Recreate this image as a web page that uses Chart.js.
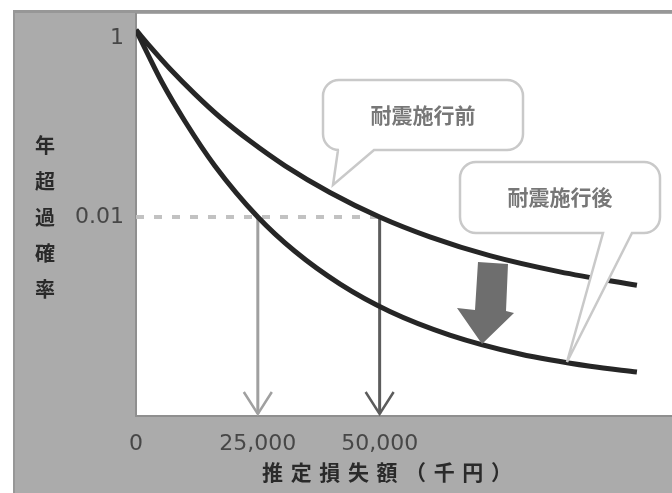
<!DOCTYPE html>
<html lang="ja">
  <head>
    <meta charset="UTF-8" />
    <title>年超過確率と推定損失額</title>
    <style>
      body { margin: 0; background: #fff; }
      #wrap { position: absolute; left: 0; top: 0; width: 672px; height: 493px; }
    </style>
  </head>
  <body>
    <div id="wrap">
      <canvas id="lossChart" width="672" height="493"></canvas>
    </div>

    <script src="https://cdn.jsdelivr.net/npm/chart.js@4.4.1/dist/chart.umd.min.js"></script>

    <script>
        // 軸の目盛
        const xTickValues = [0, 25000, 50000];
        const xTickLabels = ['0', '25,000', '50,000'];
        const yTickValues = [0.01, 1];
        const yTickLabels = ['0.01', '1'];

        // 耐震施行前 / 後 の曲線 (推定損失額, 年超過確率)
        const lossBefore = [0, 2900, 7000, 12100, 17200, 23400, 30600, 39800, 50000, 60300, 72600, 87000, 102800];
        const probBefore = [1.23, 0.80, 0.45, 0.236, 0.131, 0.0705, 0.0373, 0.0188, 0.01, 0.0060, 0.0037, 0.00244, 0.00173];
        const lossAfter = [0, 2500, 5300, 10100, 16200, 25000, 32600, 41900, 52100, 64400, 78800, 93200, 102800];
        const probAfter = [1.23, 0.646, 0.322, 0.116, 0.0372, 0.01, 0.00414, 0.00178, 0.00088, 0.00048, 0.000295, 0.000215, 0.000185];

        const threshold = 0.01;
        const markers = [25000, 50000];
        const seriesNames = ['耐震施行前', '耐震施行後'];
        const yTitle = '年超過確率';
        const xTitle = '推定損失額（千円）';

        const toPoints = (xs, ys) => xs.map((x, i) => ({ x: x, y: ys[i] }));

        function calloutPath(ctx, x, y, w, h, r, t) {
            ctx.beginPath();
            ctx.moveTo(x + r, y);
            ctx.lineTo(x + w - r, y);
            ctx.arcTo(x + w, y, x + w, y + r, r);
            ctx.lineTo(x + w, y + h - r);
            ctx.arcTo(x + w, y + h, x + w - r, y + h, r);
            ctx.lineTo(t.b, y + h);
            ctx.lineTo(t.tx, t.ty);
            ctx.lineTo(t.a, y + h);
            ctx.lineTo(x + r, y + h);
            ctx.arcTo(x, y + h, x, y + h - r, r);
            ctx.lineTo(x, y + r);
            ctx.arcTo(x, y, x + r, y, r);
            ctx.closePath();
        }

        // 背景・矢印・吹き出し
        const decoPlugin = {
            id: 'deco',
            beforeDraw(chart) {
                const ctx = chart.ctx, a = chart.chartArea;
                ctx.save();
                ctx.fillStyle = '#ffffff';
                ctx.fillRect(0, 0, chart.width, chart.height);
                ctx.fillStyle = '#ababab';
                ctx.fillRect(13, 10, chart.width - 13, chart.height - 10);
                ctx.fillStyle = '#979797';
                ctx.fillRect(13, 10, chart.width - 13, 3);
                ctx.fillRect(13, 10, 2, chart.height - 10);
                ctx.fillStyle = '#ffffff';
                ctx.fillRect(a.left, a.top, a.right - a.left, a.bottom - a.top);
                ctx.restore();
            },
            beforeDatasetsDraw(chart) {
                const ctx = chart.ctx, xs = chart.scales.x, ys = chart.scales.y;
                const top = ys.getPixelForValue(threshold);
                const bottom = chart.chartArea.bottom - 2;
                const colors = ['#a0a0a0', '#5c5c5c'];
                ctx.save();
                markers.forEach((m, i) => {
                    const px = xs.getPixelForValue(m);
                    ctx.strokeStyle = colors[i];
                    ctx.lineWidth = 3;
                    ctx.beginPath();
                    ctx.moveTo(px, top);
                    ctx.lineTo(px, bottom);
                    ctx.stroke();
                    ctx.lineWidth = 2.5;
                    ctx.beginPath();
                    ctx.moveTo(px - 14, bottom - 22);
                    ctx.lineTo(px, bottom);
                    ctx.lineTo(px + 14, bottom - 22);
                    ctx.stroke();
                });
                ctx.restore();
            },
            afterDatasetsDraw(chart) {
                const ctx = chart.ctx;
                ctx.save();
                // 下向きの太い矢印
                ctx.fillStyle = '#6e6e6e';
                ctx.beginPath();
                ctx.moveTo(478, 262);
                ctx.lineTo(508, 264);
                ctx.lineTo(506, 311);
                ctx.lineTo(514, 313);
                ctx.lineTo(482, 344);
                ctx.lineTo(457, 308);
                ctx.lineTo(475, 310);
                ctx.closePath();
                ctx.fill();

                // 吹き出し
                const boxes = [
                    { x: 323, y: 80, w: 200, h: 70, t: { a: 338, b: 374, tx: 333, ty: 185 } },
                    { x: 460, y: 162, w: 200, h: 71, t: { a: 603, b: 632, tx: 567, ty: 362 } }
                ];
                boxes.forEach((b, i) => {
                    calloutPath(ctx, b.x, b.y, b.w, b.h, 16, b.t);
                    ctx.fillStyle = '#ffffff';
                    ctx.fill();
                    ctx.strokeStyle = '#c9c9c9';
                    ctx.lineWidth = 2.5;
                    ctx.stroke();
                    ctx.fillStyle = '#777777';
                    ctx.font = 'bold 21px "Noto Sans CJK JP"';
                    ctx.textAlign = 'center';
                    ctx.textBaseline = 'middle';
                    ctx.fillText(seriesNames[i], b.x + b.w / 2, b.y + b.h / 2);
                });
                ctx.restore();
            },
            afterDraw(chart) {
                const ctx = chart.ctx;
                ctx.save();
                ctx.fillStyle = '#2a2a2a';
                ctx.textAlign = 'center';
                ctx.textBaseline = 'middle';
                ctx.font = 'bold 20px "Noto Sans CJK JP"';
                Array.from(yTitle).forEach((ch, i) => {
                    ctx.fillText(ch, 45, 145 + i * 36);
                });
                ctx.font = 'bold 21px "Noto Sans CJK JP"';
                const chars = Array.from(xTitle);
                const pitch = 28.6;
                const x0 = 387 - (chars.length - 1) / 2 * pitch;
                chars.forEach((ch, i) => {
                    ctx.fillText(ch, x0 + i * pitch, 472);
                });
                ctx.restore();
            }
        };

        let ctx = document.getElementById('lossChart').getContext('2d');

        window.lossChart = new Chart(ctx, {
            type: 'line',
            data: {
                datasets: [
                    {
                        label: seriesNames[0],
                        data: toPoints(lossBefore, probBefore),
                        borderColor: '#262626',
                        borderWidth: 5,
                        pointRadius: 0,
                        cubicInterpolationMode: 'monotone'
                    },
                    {
                        label: seriesNames[1],
                        data: toPoints(lossAfter, probAfter),
                        borderColor: '#262626',
                        borderWidth: 5,
                        pointRadius: 0,
                        cubicInterpolationMode: 'monotone'
                    },
                    {
                        label: 'threshold',
                        data: toPoints([0, markers[1]], [threshold, threshold]),
                        borderColor: '#c2c2c2',
                        borderWidth: 4,
                        borderDash: [8, 10],
                        pointRadius: 0
                    }
                ]
            },
            options: {
                responsive: false,
                animation: false,
                layout: { padding: { top: 14, left: 0, right: 0, bottom: 0 } },
                plugins: {
                    legend: { display: false },
                    tooltip: { enabled: false }
                },
                scales: {
                    x: {
                        type: 'linear',
                        min: 0,
                        max: 110000,
                        grid: { display: false, drawTicks: false },
                        border: { display: true, color: '#8f8f8f', width: 2 },
                        afterBuildTicks: (scale) => {
                            scale.ticks = xTickValues.map(v => ({ value: v }));
                        },
                        afterFit: (scale) => {
                            scale.height = 77;
                            scale.paddingLeft = 0;
                            scale.paddingRight = 0;
                        },
                        ticks: {
                            padding: 15,
                            maxRotation: 0,
                            color: '#474747',
                            font: { family: 'DejaVu Sans', size: 22 },
                            callback: (v) => xTickLabels[xTickValues.indexOf(v)]
                        }
                    },
                    y: {
                        type: 'logarithmic',
                        min: 0.0000598,
                        max: 1.854,
                        grid: { display: false, drawTicks: false },
                        border: { display: true, color: '#8f8f8f', width: 2 },
                        afterBuildTicks: (scale) => {
                            scale.ticks = yTickValues.map(v => ({ value: v }));
                        },
                        afterFit: (scale) => {
                            scale.width = 136;
                            scale.paddingTop = 0;
                            scale.paddingBottom = 0;
                        },
                        ticks: {
                            padding: 12,
                            color: '#474747',
                            font: { family: 'DejaVu Sans', size: 22 },
                            callback: (v) => yTickLabels[yTickValues.indexOf(v)]
                        }
                    }
                }
            },
            plugins: [decoPlugin]
        });
    </script>
  </body>
</html>
